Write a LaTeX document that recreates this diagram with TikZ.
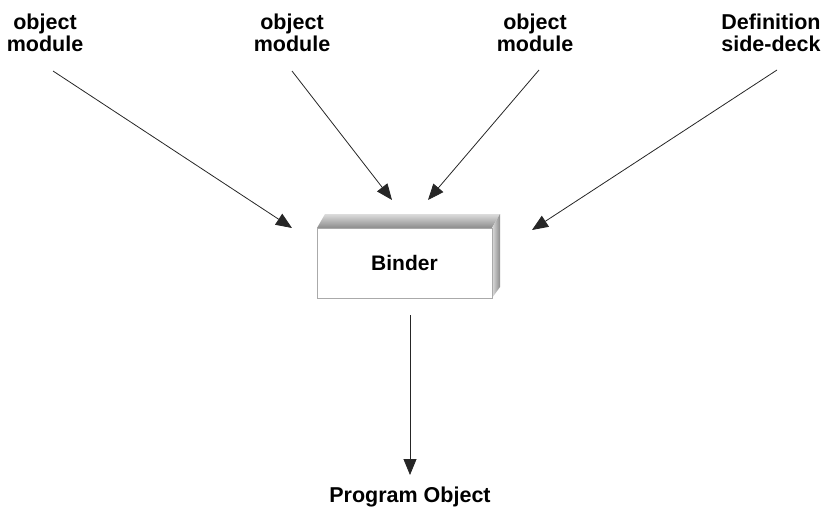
\documentclass[tikz,border=0pt]{standalone}
\usepackage{fontspec}
\setmainfont{Liberation Sans}
\usepackage{tikz}
\usetikzlibrary{arrows.meta, positioning, calc}
\definecolor{BinderEdge}{RGB}{170, 170, 170}
\definecolor{BinderTop}{RGB}{220, 220, 220}
\definecolor{BinderShade}{RGB}{140, 140, 140}

\tikzset{
  srclabel/.style={align=center, font=\fontsize{21.5}{22.5}\selectfont\bfseries, inner sep=0pt},
  feed/.style={draw=black!85, line width=0.8pt, -{Triangle[length=16pt, width=13pt]}}
}

\begin{document}
\begin{tikzpicture}[x=1pt, y=-1pt]
        \useasboundingbox (0,0) rectangle (823,512);

        % inputs
        \node[srclabel] (objA) at (45,33) {object\\module};
        \node[srclabel] (objB) at (292,33) {object\\module};
        \node[srclabel] (objC) at (535,33) {object\\module};
        \node[srclabel] (sidedeck) at (771,33) {Definition\\side-deck};

        % binder box with a raised top and side
        \shade[top color=BinderTop, bottom color=BinderShade] (317,228) -- (325,214) -- (500,214) -- (492,228) -- cycle;
        \shade[left color=BinderTop, right color=BinderShade] (492,228) -- (500,214) -- (500,287) -- (492,298) -- cycle;
        \node[draw=BinderEdge, fill=white, line width=0.8pt, minimum width=175pt, minimum height=70pt,
              font=\fontsize{21}{22}\selectfont\bfseries] (binder) at (404.5,263) {Binder};

        % output
        \node[srclabel] (progobj) at (410,497) {Program Object};

        % connector end points
        \coordinate (aS) at (53,71);    \coordinate (aE) at (292,228);
        \coordinate (bS) at (292,71);   \coordinate (bE) at (392,200);
        \coordinate (cS) at (539,70);   \coordinate (cE) at (428,200);
        \coordinate (dS) at (777,70);   \coordinate (dE) at (532,230);
        \coordinate (oS) at (410,315);  \coordinate (oE) at (410,475);

        \draw[feed] (aS) -- (aE);
        \draw[feed] (bS) -- (bE);
        \draw[feed] (cS) -- (cE);
        \draw[feed] (dS) -- (dE);
        \draw[feed] (oS) -- (oE);
      \end{tikzpicture}
\end{document}
